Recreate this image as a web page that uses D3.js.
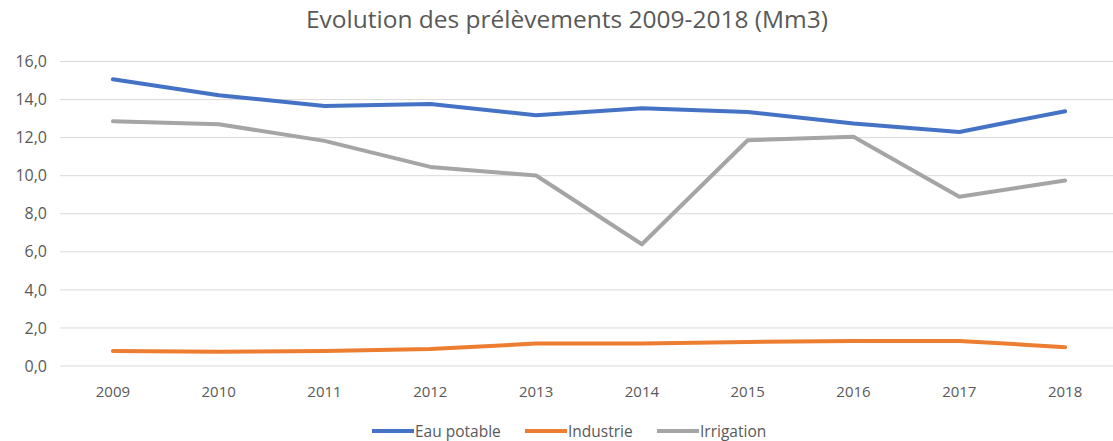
<!DOCTYPE html>
<html>
<head>
<meta charset="utf-8">
<script src="https://cdn.jsdelivr.net/npm/d3@7"></script>
<style>
  body { margin: 0; background: #fff; }
  text { font-family: "Open Sans", sans-serif; fill: #595959; }
</style>
</head>
<body>
<div id="chart"></div>
<script>
// Years on the x axis.
var years = ["2009", "2010", "2011", "2012", "2013", "2014", "2015", "2016", "2017", "2018"];

// Series values (Mm3).
var eauPotable = [15.07, 14.23, 13.66, 13.77, 13.18, 13.54, 13.35, 12.74, 12.30, 13.39];
var industrie  = [0.79, 0.75, 0.79, 0.89, 1.18, 1.18, 1.26, 1.32, 1.32, 0.99];
var irrigation = [12.86, 12.70, 11.83, 10.46, 10.01, 6.40, 11.86, 12.04, 8.89, 9.75];

var seriesNames = ["Eau potable", "Industrie", "Irrigation"];
var yTicks = [0, 2, 4, 6, 8, 10, 12, 14, 16];

var width = 1113;
var height = 441;
var colors = ["#4472C4", "#ED7D31", "#A5A5A5"];

var svg = d3.select("#chart")
    .append("svg")
    .attr("width", width)
    .attr("height", height);

// Title.
svg.append("text")
    .attr("x", 567)
    .attr("y", 28)
    .attr("text-anchor", "middle")
    .style("font-size", "24.5px")
    .text("Evolution des prélèvements 2009-2018 (Mm3)");

// Scales.
var x = d3.scaleBand()
    .domain(years)
    .range([60, 1118]);

var y = d3.scaleLinear()
    .domain([0, 16])
    .range([366, 61.5]);

// Horizontal gridlines.
svg.append("g")
    .selectAll("line")
    .data(yTicks)
    .enter()
    .append("line")
    .attr("x1", 60)
    .attr("x2", 1118)
    .attr("y1", d => y(d))
    .attr("y2", d => y(d))
    .attr("stroke", "#D9D9D9")
    .attr("stroke-width", 1);

// Y axis labels (French decimal comma).
var yAxis = d3.axisLeft(y)
    .tickValues(yTicks)
    .tickSize(0)
    .tickPadding(0)
    .tickFormat(d => d3.format(".1f")(d).replace(".", ","));

svg.append("g")
    .attr("transform", "translate(47,0)")
    .call(yAxis)
    .call(g => g.select(".domain").remove())
    .selectAll("text")
    .style("font-size", "16px")
    .style("font-family", null)
    .attr("fill", null);

// X axis labels.
var xAxis = d3.axisBottom(x)
    .tickSize(0)
    .tickPadding(0);

svg.append("g")
    .attr("transform", "translate(0,386)")
    .call(xAxis)
    .call(g => g.select(".domain").remove())
    .selectAll("text")
    .style("font-size", "15px")
    .style("font-family", null)
    .attr("fill", null);

// Lines.
var allSeries = [eauPotable, industrie, irrigation];

var line = d3.line()
    .x((d, i) => x(years[i]) + x.bandwidth() / 2)
    .y(d => y(d));

svg.append("g")
    .selectAll("path")
    .data(allSeries)
    .enter()
    .append("path")
    .attr("d", d => line(d))
    .attr("fill", "none")
    .attr("stroke", (d, i) => colors[i])
    .attr("stroke-width", 4)
    .attr("stroke-linejoin", "round")
    .attr("stroke-linecap", "round");

// Legend.
var legendX = [372, 525, 657];
var legend = svg.append("g")
    .selectAll("g")
    .data(seriesNames)
    .enter()
    .append("g")
    .attr("transform", (d, i) => "translate(" + legendX[i] + ",431)");

legend.append("line")
    .attr("x1", 0)
    .attr("x2", 42)
    .attr("stroke", (d, i) => colors[i])
    .attr("stroke-width", 4);

legend.append("text")
    .attr("x", 43)
    .attr("y", 5.5)
    .style("font-size", "15.5px")
    .text(d => d);
</script>
</body>
</html>
